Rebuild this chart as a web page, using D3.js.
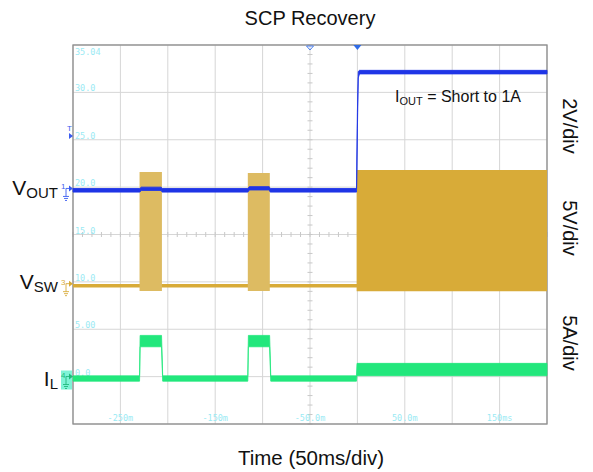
<!DOCTYPE html>
<html>
<head>
<meta charset="utf-8">
<script src="https://cdn.jsdelivr.net/npm/d3@7"></script>
<style>
  html, body { margin: 0; padding: 0; background: #fff; }
  svg { display: block; font-family: "Liberation Sans", Arial, sans-serif; }
</style>
</head>
<body>
<svg id="chart" width="593" height="472"></svg>
<script>
// ---------- data (time in ms, values in V or A) ----------
const timeDomain = [-300, 200];
const divisionsY = 8;
const gridLeftLabels = ["35.04", "30.0", "25.0", "20.0", "15.0", "10.0", "5.00", "0.0"];
const gridLeftLabelDivs = [8, 7, 6, 5, 4, 3, 2, 1];
const timeTickValues = [-250, -150, -50, 50, 150];
const timeTickLabels = ["-250m", "-150m", "-50.0m", "50.0m", "150ms"];

// VOUT (V), 2 V/div : envelope
const voutTime = [-300, -229.5, -228, -207, -206, -115.5, -114, -93, -92, -0.9, 0.0, 0.9, 2.2, 200];
const voutLow  = [-0.07, -0.07, 0.0, 0.0, -0.07, -0.07, 0.02, 0.02, -0.07, -0.07, 2.6, 4.75, 4.92, 4.92];
const voutHigh = [0.08, 0.08, 0.14, 0.14, 0.08, 0.08, 0.16, 0.16, 0.08, 0.08, 3.3, 5.02, 5.07, 5.07];

// VSW (V), 5 V/div : baseline and switching bursts
const vswBaseTime = [-300, 200];
const vswBaseValue = [0, 0];
const vswBurstStart = [-229.8, -115.6, -0.8];
const vswBurstEnd = [-206.2, -92.4, 200];
const vswBurstHigh = [12.0, 11.9, 12.2];
const vswBurstLow = [-0.55, -0.55, -0.6];

// IL (A), 5 A/div : envelope
const ilTime = [-300, -229.8, -229.2, -206.6, -205.4, -115.6, -115.0, -92.6, -91.4, -1.0, -0.4, 200];
const ilLow = [-0.28, -0.28, 3.35, 3.35, -0.28, -0.28, 3.35, 3.35, -0.28, -0.28, 0.3, 0.3];
const ilHigh = [0.28, 0.28, 4.55, 4.55, 0.28, 0.28, 4.55, 4.55, 0.28, 0.28, 1.6, 1.6];

// channel settings
const channelNames = ["VOUT", "VSW", "IL"];
const channelOffsetDiv = [4.93, 2.92, 0.96];
const channelPerDiv = [2, 5, 5];
const channelScaleLabels = ["2V/div", "5V/div", "5A/div"];

// ---------- layout ----------
const svg = d3.select("#chart");
const L = 73, R = 547, T = 45, B = 424;
const x = d3.scaleLinear().domain(timeDomain).range([L, R]);
const yDiv = d3.scaleLinear().domain([0, divisionsY]).range([B, T]);
const chanY = i => d3.scaleLinear()
  .domain([-channelOffsetDiv[i] * channelPerDiv[i], (divisionsY - channelOffsetDiv[i]) * channelPerDiv[i]])
  .range([B, T]);
const yV = chanY(0), yS = chanY(1), yI = chanY(2);

const colBlue = "#1f35e6", colGold = "#d8ab38", colGoldLight = "#ddbb62", colGreen = "#22e77c";

// grid
const g = svg.append("g");
const xGridTicks = d3.range(timeDomain[0], timeDomain[1] + 1, 50);
g.selectAll("line.vg").data(xGridTicks).join("line")
  .attr("x1", d => x(d)).attr("x2", d => x(d)).attr("y1", T).attr("y2", B)
  .attr("stroke", "#d6d6d6").attr("stroke-width", 1);
g.selectAll("line.hg").data(d3.range(0, divisionsY + 1)).join("line")
  .attr("class", "hg")
  .attr("x1", L).attr("x2", R).attr("y1", d => yDiv(d)).attr("y2", d => yDiv(d))
  .attr("stroke", "#d6d6d6").attr("stroke-width", 1);

// minor ticks on centre lines
const minorX = d3.range(timeDomain[0], timeDomain[1] + 0.1, 10);
g.selectAll("line.mx").data(minorX).join("line").attr("class", "mx")
  .attr("x1", d => x(d)).attr("x2", d => x(d))
  .attr("y1", yDiv(4) - 2.5).attr("y2", yDiv(4) + 2.5)
  .attr("stroke", "#c8c8c8");
const minorY = d3.range(0, divisionsY + 0.01, 0.2);
g.selectAll("line.my").data(minorY).join("line").attr("class", "my")
  .attr("x1", x(-50) - 2.5).attr("x2", x(-50) + 2.5)
  .attr("y1", d => yDiv(d)).attr("y2", d => yDiv(d))
  .attr("stroke", "#c8c8c8");

// faint scope grid labels
g.selectAll("text.gl").data(gridLeftLabels).join("text").attr("class", "gl")
  .attr("x", L + 2)
  .attr("y", (d, i) => i === 0 ? yDiv(gridLeftLabelDivs[i]) + 10 : yDiv(gridLeftLabelDivs[i]) - 1)
  .attr("font-family", "DejaVu Sans Mono, monospace").attr("font-size", 8.5)
  .attr("fill", "#9aeaf4").text(d => d);
g.selectAll("text.tl").data(timeTickLabels).join("text").attr("class", "tl")
  .attr("x", (d, i) => x(timeTickValues[i])).attr("y", B - 3)
  .attr("text-anchor", "middle")
  .attr("font-family", "DejaVu Sans Mono, monospace").attr("font-size", 8.5)
  .attr("fill", "#9aeaf4").text(d => d);

// border
svg.append("rect").attr("x", L).attr("y", T).attr("width", R - L).attr("height", B - T)
  .attr("fill", "none").attr("stroke", "#8c8c8c").attr("stroke-width", 1.3);

// ---------- traces ----------
const tr = svg.append("g");

// VSW baseline
tr.append("path")
  .datum(vswBaseTime.map((t, i) => [t, vswBaseValue[i]]))
  .attr("d", d3.line().x(d => x(d[0])).y(d => yS(d[1])))
  .attr("fill", "none").attr("stroke", colGold).attr("stroke-width", 3.5);

// VSW bursts
const bursts = vswBurstStart.map((s, i) => ({ s, e: vswBurstEnd[i], hi: vswBurstHigh[i], lo: vswBurstLow[i], i }));
tr.selectAll("path.burst").data(bursts).join("path").attr("class", "burst")
  .attr("d", b => d3.area().x(d => x(d)).y0(yS(b.lo)).y1(yS(b.hi))([b.s, b.e]))
  .attr("fill", b => b.i < 2 ? colGoldLight : colGold);

// IL envelope
tr.append("path")
  .datum(ilTime.map((t, i) => [t, ilLow[i], ilHigh[i]]))
  .attr("d", d3.area().x(d => x(d[0])).y0(d => yI(d[1])).y1(d => yI(d[2])))
  .attr("fill", colGreen).attr("stroke", colGreen).attr("stroke-width", 0.8);

// VOUT envelope
tr.append("path")
  .datum(voutTime.map((t, i) => [t, voutLow[i], voutHigh[i]]))
  .attr("d", d3.area().x(d => x(d[0])).y0(d => yV(d[1])).y1(d => yV(d[2])))
  .attr("fill", colBlue).attr("stroke", colBlue).attr("stroke-width", 0.9)
  .attr("stroke-linejoin", "round");

// ---------- markers ----------
function chanMarker(yy, color, num, boxed) {
  const m = svg.append("g").attr("transform", `translate(0,${yy})`);
  if (boxed) {
    m.append("rect").attr("x", 61).attr("y", -8).attr("width", 11).attr("height", 19)
      .attr("fill", "#7ff3d6");
  }
  m.append("text").attr("x", 61).attr("y", -1).attr("font-size", 8).attr("fill", color).text(num);
  m.append("path").attr("d", "M66,-2 L66,6 M63,6 L69,6 M64,8 L68,8 M65,10 L67,10")
    .attr("stroke", color).attr("stroke-width", 0.9).attr("fill", "none");
  m.append("path").attr("d", "M66,-2 L69,-2").attr("stroke", color).attr("stroke-width", 0.9);
  m.append("path").attr("d", "M69,-5 L73,-2 L69,1 Z").attr("fill", color);
}
chanMarker(yV(0), "#3b5cf0", "1", false);
chanMarker(yS(0), "#d8ab38", "3", false);
chanMarker(yI(0), "#1fb87a", "4", true);

// trigger level "T"
svg.append("text").attr("x", 67).attr("y", 131).attr("font-size", 8).attr("fill", "#3b5cf0").text("T");
svg.append("path").attr("d", "M69,133 L73,136 L69,139 Z").attr("fill", "#3b5cf0");

// top trigger markers
svg.append("path").attr("d", `M${x(-50) - 3.5},${T + 1} L${x(-50) + 3.5},${T + 1} L${x(-50)},${T + 5} Z`)
  .attr("fill", "none").attr("stroke", "#4a7ff0").attr("stroke-width", 1);
svg.append("path").attr("d", `M${x(0) - 4},${T} L${x(0) + 4},${T} L${x(0)},${T + 5} Z`)
  .attr("fill", "#2f6be6");

// ---------- labels ----------
svg.append("text").attr("x", 310).attr("y", 25).attr("text-anchor", "middle")
  .attr("font-size", 20).attr("fill", "#111").text("SCP Recovery");
svg.append("text").attr("x", 311).attr("y", 465).attr("text-anchor", "middle")
  .attr("font-size", 20.5).attr("fill", "#111").text("Time (50ms/div)");

function subLabel(xr, yy, main, sub) {
  const t = svg.append("text").attr("x", xr).attr("y", yy).attr("text-anchor", "end").attr("fill", "#111");
  t.append("tspan").attr("font-size", 21).text(main);
  t.append("tspan").attr("font-size", 15).attr("dy", 3).text(sub);
}
subLabel(58, yV(0) + 5, "V", "OUT");
subLabel(58, yS(0) + 3, "V", "SW");
subLabel(58, yI(0) + 7, "I", "L");

const note = svg.append("text").attr("x", 395).attr("y", 102).attr("fill", "#111");
note.append("tspan").attr("font-size", 16).text("I");
note.append("tspan").attr("font-size", 11).attr("dy", 3).text("OUT");
note.append("tspan").attr("font-size", 16).attr("dy", -3).text(" = Short to 1A");

const scaleLabelY = [126, 228, 343];
svg.selectAll("text.sc").data(channelScaleLabels).join("text").attr("class", "sc")
  .attr("transform", (d, i) => `translate(563,${scaleLabelY[i]}) rotate(90)`)
  .attr("text-anchor", "middle").attr("font-size", 20).attr("fill", "#111").text(d => d);
</script>
</body>
</html>
